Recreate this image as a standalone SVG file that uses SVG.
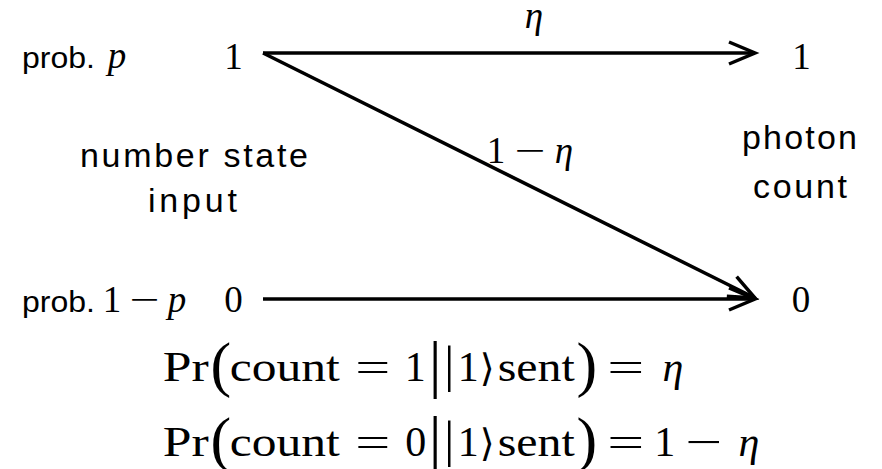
<svg xmlns="http://www.w3.org/2000/svg" width="882" height="469" viewBox="0 0 882 469">
<style>
.sans{font-family:"Liberation Sans",Arial,sans-serif;fill:#000}
.math{font-family:"Liberation Serif","Times New Roman",serif;fill:#000}
.it{font-style:italic}
.conn{stroke:#000;stroke-width:3.5;fill:none;stroke-linecap:butt}
</style>
<defs>
<marker id="chev" markerUnits="userSpaceOnUse" viewBox="-30 -14 34 28" refX="0" refY="0" markerWidth="34" markerHeight="28" orient="auto" overflow="visible">
<path d="M-26,-11 L0,0 L-26,11" fill="none" stroke="#000" stroke-width="3.5" stroke-linejoin="miter"/>
</marker>
</defs>
<rect width="882" height="469" fill="#fff"/>
<g id="connectors">
<line class="conn" x1="263" y1="53" x2="755" y2="53" marker-end="url(#chev)"/>
<line class="conn" x1="263" y1="53" x2="755" y2="298" marker-end="url(#chev)"/>
<line class="conn" x1="263" y1="299" x2="755" y2="299" marker-end="url(#chev)"/>
</g>
<g id="label-eta">
<text class="math it" x="534" y="28" font-size="37" text-anchor="middle">η</text>
</g>
<g id="label-1-eta">
<text class="math" y="163" font-size="37" text-anchor="middle"><tspan x="496">1</tspan><tspan x="530" textLength="31" lengthAdjust="spacingAndGlyphs">−</tspan><tspan x="564" font-style="italic">η</tspan></text>
</g>
<g id="in-1">
<text class="sans" x="22" y="68" font-size="29" textLength="73" lengthAdjust="spacingAndGlyphs">prob.</text>
<text class="math" x="117" y="68" font-size="37" font-style="italic" text-anchor="middle">p</text>
<text class="math" x="233.5" y="69" font-size="37" text-anchor="middle">1</text>
</g>
<g id="in-0">
<text class="sans" x="22" y="312" font-size="29" textLength="73" lengthAdjust="spacingAndGlyphs">prob.</text>
<text class="math" y="312" font-size="37" text-anchor="middle"><tspan x="112">1</tspan><tspan x="144.5" textLength="30" lengthAdjust="spacingAndGlyphs">−</tspan><tspan x="177" font-style="italic">p</tspan></text>
<text class="math" x="233.5" y="312" font-size="37" text-anchor="middle">0</text>
</g>
<g id="out-1">
<text class="math" x="801.5" y="69" font-size="37" text-anchor="middle">1</text>
</g>
<g id="out-0">
<text class="math" x="801" y="312" font-size="37" text-anchor="middle">0</text>
</g>
<g id="input-label">
<text class="sans" x="80" y="167" font-size="34" textLength="228" lengthAdjust="spacing">number state</text>
<text class="sans" x="148" y="212" font-size="34" textLength="89" lengthAdjust="spacing">input</text>
</g>
<g id="output-label">
<text class="sans" x="742" y="149" font-size="34" textLength="115" lengthAdjust="spacing">photon</text>
<text class="sans" x="753" y="198" font-size="34" textLength="94" lengthAdjust="spacing">count</text>
</g>
<g id="equation-1">
<text class="math" font-size="42" text-anchor="middle">
<tspan x="191" y="381" textLength="46" lengthAdjust="spacingAndGlyphs">Pr</tspan>
<tspan x="226" y="385" font-size="62">(</tspan>
<tspan x="290" y="381" textLength="110" lengthAdjust="spacingAndGlyphs">count</tspan>
<tspan x="378" y="381" textLength="35" lengthAdjust="spacingAndGlyphs">=</tspan>
<tspan x="420.5" y="381">1</tspan>
<tspan x="440.5" y="385" font-size="64">|</tspan>
<tspan x="454.5" y="381" font-size="50">|</tspan>
<tspan x="473.5" y="381">1</tspan>
<tspan x="492.5" y="381" font-family="'DejaVu Serif','DejaVu Sans',serif" font-size="38">⟩</tspan>
<tspan x="541.5" y="381" textLength="77" lengthAdjust="spacingAndGlyphs">sent</tspan>
<tspan x="592" y="385" font-size="62">)</tspan>
<tspan x="631" y="381" textLength="37" lengthAdjust="spacingAndGlyphs">=</tspan>
<tspan x="673" y="381" font-style="italic">η</tspan>
</text>
</g>
<g id="equation-2">
<text class="math" font-size="42" text-anchor="middle">
<tspan x="191" y="456" textLength="46" lengthAdjust="spacingAndGlyphs">Pr</tspan>
<tspan x="226" y="460" font-size="62">(</tspan>
<tspan x="290" y="456" textLength="110" lengthAdjust="spacingAndGlyphs">count</tspan>
<tspan x="378" y="456" textLength="35" lengthAdjust="spacingAndGlyphs">=</tspan>
<tspan x="421" y="456">0</tspan>
<tspan x="440.5" y="460" font-size="64">|</tspan>
<tspan x="454.5" y="456" font-size="50">|</tspan>
<tspan x="473.5" y="456">1</tspan>
<tspan x="492.5" y="456" font-family="'DejaVu Serif','DejaVu Sans',serif" font-size="38">⟩</tspan>
<tspan x="541.5" y="456" textLength="77" lengthAdjust="spacingAndGlyphs">sent</tspan>
<tspan x="592" y="460" font-size="62">)</tspan>
<tspan x="631" y="456" textLength="37" lengthAdjust="spacingAndGlyphs">=</tspan>
<tspan x="670" y="456">1</tspan>
<tspan x="709" y="456" textLength="37" lengthAdjust="spacingAndGlyphs">−</tspan>
<tspan x="749" y="456" font-style="italic">η</tspan>
</text>
</g>
</svg>
